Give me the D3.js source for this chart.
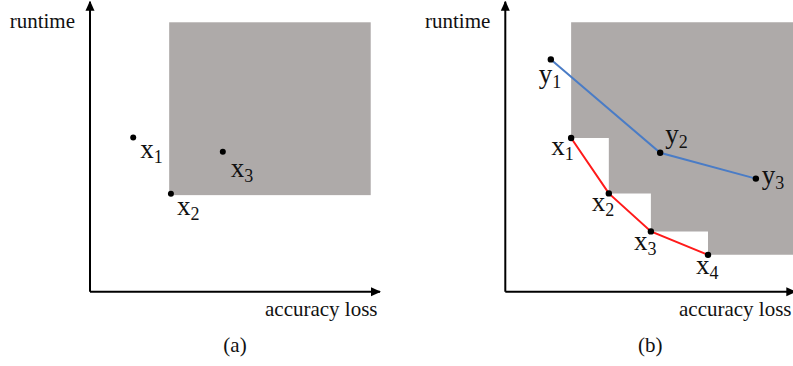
<!DOCTYPE html>
<html>
<head>
<meta charset="utf-8">
<script src="https://cdn.jsdelivr.net/npm/d3@7"></script>
<style>
  html, body { margin: 0; padding: 0; background: #fff; }
  svg { display: block; }
</style>
</head>
<body>
<svg id="chart" width="793" height="366"></svg>
<script>
// ---- data (domain units 0..100 on both axes) ----
const panelTitles = ["(a)", "(b)"];
const xAxisLabel = "accuracy loss";
const yAxisLabel = "runtime";

// panel (a)
const aNames = ["x1", "x2", "x3"];
const aLoss = [14.9, 27.9, 45.8];
const aRuntime = [53.2, 33.8, 48.3];
const aRegionLoss = [27.3, 96.8];
const aRegionRuntime = [33.3, 92.9];

// panel (b)
const bXNames = ["x1", "x2", "x3", "x4"];
const bXLoss = [22.7, 35.7, 50.2, 69.9];
const bXRuntime = [53.0, 33.9, 20.8, 12.7];
const bYNames = ["y1", "y2", "y3"];
const bYLoss = [15.7, 53.4, 86.4];
const bYRuntime = [80.1, 47.9, 39.0];
const bRegionTop = 92.9;
const bRegionRight = 100;

// ---- label placement (pixel offsets from point: dx, dy of baseline) ----
const aLabelPlace = [[7, 21], [6, 21], [8, 25]];
const bXLabelPlace = [[-20, 17], [-17, 18], [-17, 19], [-12, 19]];
const bYLabelPlace = [[-12, 24], [5, -10], [6, 5]];

// ---- styles ----
const grey = "#aeaaa9";
const blue = "#4a7cc6";
const red = "#ff1a1a";
const serif = "'Liberation Serif', Tinos, 'Times New Roman', Times, 'DejaVu Serif', serif";

const svg = d3.select("#chart").attr("font-family", serif);
const defs = svg.append("defs");
defs.append("marker")
  .attr("id", "arrow").attr("viewBox", "0 0 10 10")
  .attr("refX", 9).attr("refY", 5)
  .attr("markerWidth", 5).attr("markerHeight", 5)
  .attr("markerUnits", "strokeWidth")
  .attr("orient", "auto")
  .append("path").attr("d", "M0,0.5 L10,5 L0,9.5 Z").attr("fill", "#000");

function makePanel(ox) {
  const x = d3.scaleLinear().domain([0, 100]).range([ox, ox + 290]);
  const y = d3.scaleLinear().domain([0, 100]).range([291.7, 1.7]);
  return { x, y, g: svg.append("g") };
}

function drawAxes(p, titleText, xLabelAnchorX) {
  const { x, y, g } = p;
  g.append("line").attr("x1", x(0)).attr("y1", y(0)).attr("x2", x(0)).attr("y2", y(100))
    .attr("stroke", "#000").attr("stroke-width", 2).attr("marker-end", "url(#arrow)");
  g.append("line").attr("x1", x(0)).attr("y1", y(0)).attr("x2", x(100)).attr("y2", y(0))
    .attr("stroke", "#000").attr("stroke-width", 2).attr("marker-end", "url(#arrow)");
  g.append("text").attr("x", x(0) - 15).attr("y", 28).attr("text-anchor", "end")
    .attr("font-family", serif).attr("font-size", 21).attr("fill", "#111").text(yAxisLabel);
  g.append("text").attr("x", xLabelAnchorX).attr("y", 316).attr("text-anchor", "start")
    .attr("font-family", serif).attr("font-size", 21).attr("fill", "#111").text(xAxisLabel);
  g.append("text").attr("x", x(50)).attr("y", 352).attr("text-anchor", "middle")
    .attr("font-family", serif).attr("font-size", 21).attr("fill", "#111").text(titleText);
}

function drawLabel(g, px, py, name, place) {
  const t = g.append("text").attr("x", px + place[0]).attr("y", py + place[1])
    .attr("font-family", serif).attr("font-size", 27).attr("fill", "#111");
  t.append("tspan").text(name[0]);
  t.append("tspan").attr("font-size", 18).attr("dy", 5).text(name.slice(1));
}

// ---- panel (a) ----
const pa = makePanel(90);
pa.g.append("rect")
  .attr("x", pa.x(aRegionLoss[0])).attr("y", pa.y(aRegionRuntime[1]))
  .attr("width", pa.x(aRegionLoss[1]) - pa.x(aRegionLoss[0]))
  .attr("height", pa.y(aRegionRuntime[0]) - pa.y(aRegionRuntime[1]))
  .attr("fill", grey);
drawAxes(pa, panelTitles[0], 265);
aNames.forEach((n, i) => {
  pa.g.append("circle").attr("cx", pa.x(aLoss[i])).attr("cy", pa.y(aRuntime[i])).attr("r", 3).attr("fill", "#000");
  drawLabel(pa.g, pa.x(aLoss[i]), pa.y(aRuntime[i]), n, aLabelPlace[i]);
});

// ---- panel (b) ----
const pb = makePanel(505.3);
// dominated (staircase) region
const stair = [[bXLoss[0], bRegionTop]];
bXLoss.forEach((l, i) => {
  stair.push([l, bXRuntime[i]]);
  if (i < bXLoss.length - 1) stair.push([bXLoss[i + 1], bXRuntime[i]]);
});
stair.push([bRegionRight, bXRuntime[bXRuntime.length - 1]]);
stair.push([bRegionRight, bRegionTop]);
pb.g.append("path")
  .attr("d", d3.line().x(d => pb.x(d[0])).y(d => pb.y(d[1]))(stair) + "Z")
  .attr("fill", grey);
drawAxes(pb, panelTitles[1], 679);

const lineGen = d3.line().x(d => pb.x(d[0])).y(d => pb.y(d[1]));
pb.g.append("path").attr("d", lineGen(bXLoss.map((l, i) => [l, bXRuntime[i]])))
  .attr("fill", "none").attr("stroke", red).attr("stroke-width", 2);
pb.g.append("path").attr("d", lineGen(bYLoss.map((l, i) => [l, bYRuntime[i]])))
  .attr("fill", "none").attr("stroke", blue).attr("stroke-width", 2);

bXNames.forEach((n, i) => {
  pb.g.append("circle").attr("cx", pb.x(bXLoss[i])).attr("cy", pb.y(bXRuntime[i])).attr("r", 3.2).attr("fill", "#000");
  drawLabel(pb.g, pb.x(bXLoss[i]), pb.y(bXRuntime[i]), n, bXLabelPlace[i]);
});
bYNames.forEach((n, i) => {
  pb.g.append("circle").attr("cx", pb.x(bYLoss[i])).attr("cy", pb.y(bYRuntime[i])).attr("r", 3.2).attr("fill", "#000");
  drawLabel(pb.g, pb.x(bYLoss[i]), pb.y(bYRuntime[i]), n, bYLabelPlace[i]);
});
</script>
</body>
</html>
